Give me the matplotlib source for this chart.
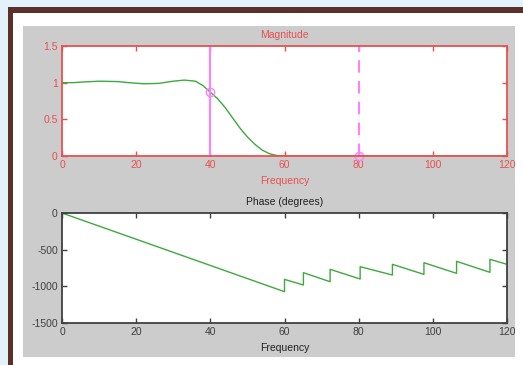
import matplotlib
matplotlib.use('Agg')
from matplotlib import pyplot as plt
from matplotlib.patches import Rectangle

# magnitude response
mag_freq = [0, 3, 6, 10, 15, 18, 22, 26, 30, 33, 36, 38, 40, 42, 44, 46, 48, 50, 52, 54, 56, 58, 60, 120]
mag_vals = [1.0, 1.0, 1.01, 1.02, 1.015, 1.0, 0.985, 0.99, 1.02, 1.035, 1.02, 0.96, 0.87, 0.78, 0.66, 0.52,
            0.38, 0.26, 0.16, 0.08, 0.03, 0.006, 0.0, 0.0]

# phase response in degrees
phase_freq = [0, 60, 60, 65.1, 65.1, 72.3, 72.3, 80.4, 80.4, 89.1, 89.1, 97.6, 97.6, 106.4, 106.4, 115.4, 115.4, 120]
phase_vals = [0, -1073, -905, -982, -814, -937, -768, -900, -732, -846, -700, -837, -678, -823, -659, -809, -632, -700]

# markers
pass_edge = 40
pass_mag = 0.87
stop_edge = 80
stop_mag = 0.0

xticks = [0, 20, 40, 60, 80, 100, 120]
mag_yticks = [0, 0.5, 1, 1.5]
mag_ylabels = ['0', '0.5', '1', '1.5']
phase_yticks = [-1500, -1000, -500, 0]

W, H = 523, 365
RED = '#e8504f'
DARK = '#404040'
GREEN = '#3caa3c'
MAGENTA = '#ff80ff'
plt.rcParams['font.family'] = ['Liberation Sans', 'DejaVu Sans']
plt.rcParams['axes.unicode_minus'] = False

fig = plt.figure(figsize=(W / 100, H / 100), dpi=100, facecolor='#e3f2fa')


def box(x0, y0, x1, y1, color):
    fig.add_artist(Rectangle((x0 / W, 1 - y1 / H), (x1 - x0) / W, (y1 - y0) / H,
                             transform=fig.transFigure, facecolor=color, edgecolor='none', zorder=-10))


box(8, 7, W + 5, H + 5, '#5a3028')
box(13, 13, W + 5, H + 5, 'white')
box(23, 26, 515, 357, '#cccccc')


def make_axes(top, color):
    ax = fig.add_axes([62 / W, 1 - (top + 110) / H, 445 / W, 110 / H])
    ax.set_facecolor('white')
    for s in ax.spines.values():
        s.set_color(color)
        s.set_linewidth(1.3)
    ax.tick_params(direction='in', length=3.5, width=1, colors=color, labelsize=7.5,
                   top=True, right=True, pad=3)
    ax.set_xlim(0, 120)
    ax.set_xticks(xticks)
    return ax


ax1 = make_axes(46, RED)
ax1.plot(mag_freq, mag_vals, color=GREEN, lw=1)
ax1.axvline(pass_edge, color=MAGENTA, lw=1.5)
ax1.axvline(stop_edge, color=MAGENTA, lw=1.5, ls=(0, (6, 4)))
ax1.plot([pass_edge, stop_edge], [pass_mag, stop_mag], 'o', mfc='none', mec=MAGENTA, ms=6, mew=1, clip_on=False)
ax1.set_ylim(0, 1.5)
ax1.set_yticks(mag_yticks)
ax1.set_yticklabels(mag_ylabels)
ax1.set_title('Magnitude', color=RED, fontsize=7.5, pad=6)
ax1.set_xlabel('Frequency', color=RED, fontsize=7.5, labelpad=4)

ax2 = make_axes(213, DARK)
ax2.plot(phase_freq, phase_vals, color=GREEN, lw=1)
ax2.set_ylim(-1500, 0)
ax2.set_yticks(phase_yticks)
ax2.set_title('Phase (degrees)', color='#202020', fontsize=7.5, pad=6)
ax2.set_xlabel('Frequency', color='#202020', fontsize=7.5, labelpad=4)

fig.savefig('out.png', dpi=100, facecolor=fig.get_facecolor())
